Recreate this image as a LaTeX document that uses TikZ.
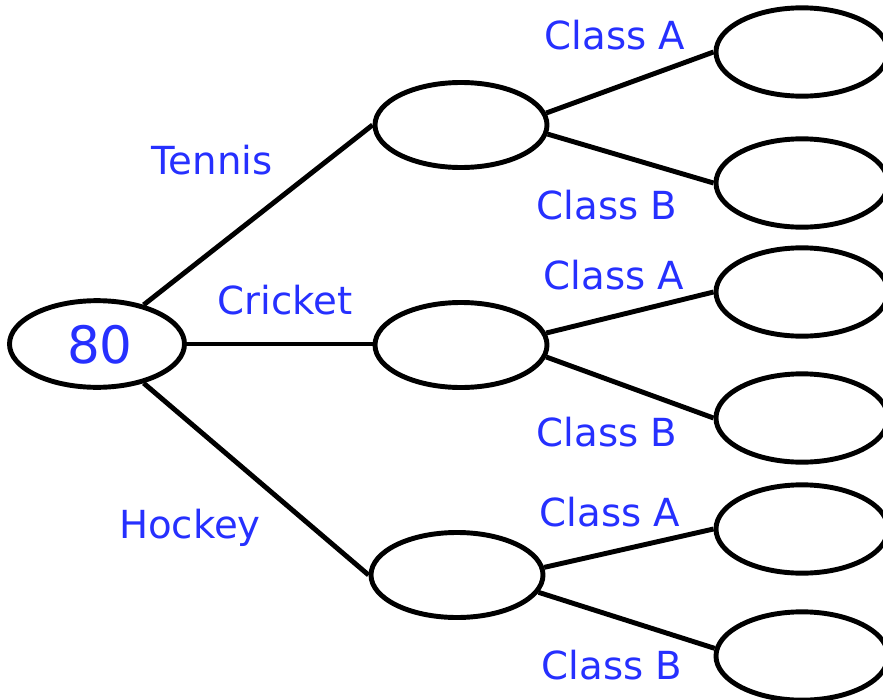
\documentclass[tikz,border=0pt]{standalone}
\usepackage{fontspec}
\setmainfont{DejaVu Sans}
\usetikzlibrary{shapes.geometric}
\definecolor{lblblue}{RGB}{38,48,255}

\begin{document}
\begin{tikzpicture}[x=0.03cm,y=-0.03cm,
  every node/.style={inner sep=0pt},
  bubble/.style={draw=black,ellipse,line width=4.2pt,minimum width=5.16cm,minimum height=2.55cm},
  lbl/.style={text=lblblue,font=\fontsize{33}{36}\selectfont},
  branch/.style={line width=4.2pt}]
\useasboundingbox[fill=white] (0,0) rectangle (883,700);
% root
\node [bubble,minimum width=5.25cm,minimum height=2.6cm] (root) at (97,344) {};
\node [text=lblblue,font=\fontsize{44}{48}\selectfont] (total) at (100,345) {80};
% sports
\node [bubble] (tennis) at (461,125) {};
\node [bubble] (cricket) at (461,345) {};
\node [bubble] (hockey) at (457,575) {};
% classes
\node [bubble,minimum height=2.65cm] (tA) at (802,52) {};
\node [bubble,minimum height=2.65cm] (tB) at (802,183) {};
\node [bubble,minimum height=2.65cm] (cA) at (802,292) {};
\node [bubble,minimum height=2.65cm] (cB) at (802,418) {};
\node [bubble,minimum height=2.65cm] (hA) at (802,529) {};
\node [bubble,minimum height=2.65cm] (hB) at (802,656) {};
% branches
\draw [branch] (root.40) -- (tennis.west);
\draw [branch] (root.east) -- (root.east -| cricket.west);
\draw [branch] (root.-40) -- (hockey.west);
\draw [branch] (tennis.8) -- (tA.west);
\draw [branch] (tennis.-6) -- (tB.west);
\draw [branch] (cricket.8) -- (cA.west);
\draw [branch] (cricket.-8) -- (cB.west);
\draw [branch] (hockey.5) -- (hA.west);
\draw [branch] (hockey.-12) -- (hB.175);
% labels
\node [lbl] (ltennis) at (212,160) {Tennis};
\node [lbl] (lcricket) at (285,300) {Cricket};
\node [lbl] (lhockey) at (190,528) {Hockey};
\node [lbl] (ltA) at (615,35) {Class A};
\node [lbl] (ltB) at (607,205) {Class B};
\node [lbl] (lcA) at (614,275) {Class A};
\node [lbl] (lcB) at (607,432) {Class B};
\node [lbl] (lhA) at (610,512) {Class A};
\node [lbl] (lhB) at (612,665) {Class B};
\end{tikzpicture}
\end{document}
